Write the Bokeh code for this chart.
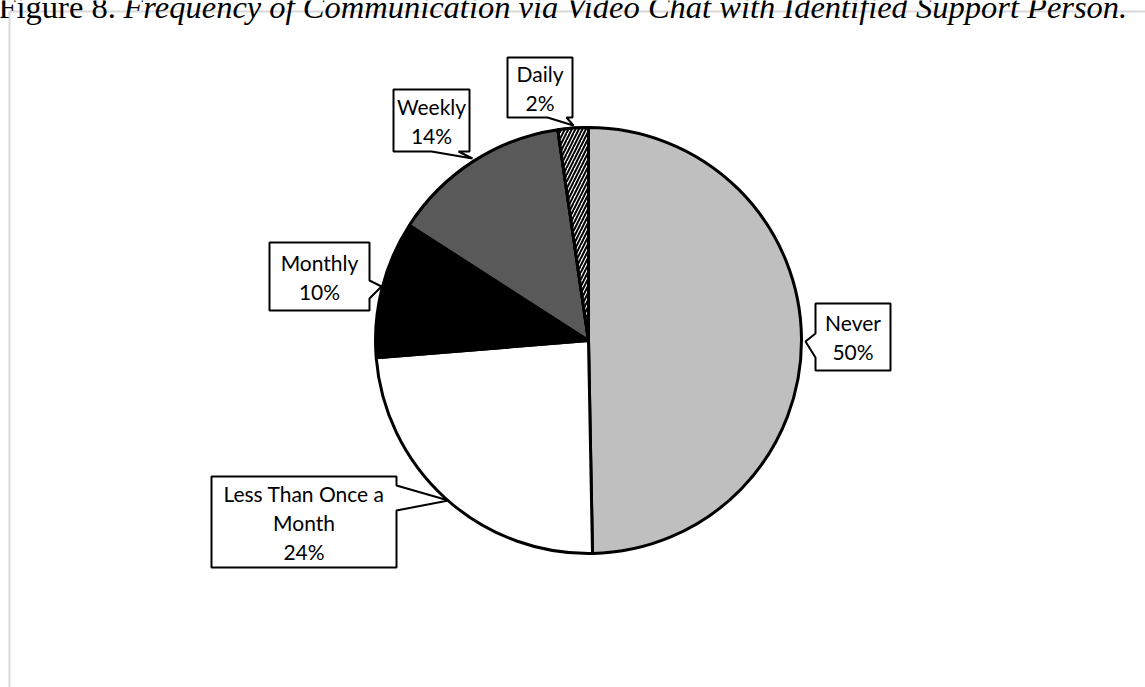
import math
from bokeh.plotting import figure
from bokeh.models import Range1d, ColumnDataSource
from bokeh.core.properties import value
from bokeh.embed import file_html
from bokeh.resources import INLINE

# ---- data ----
categories = ["Never", "Less Than Once a Month", "Monthly", "Weekly", "Daily"]
shares = [49.7, 24.0, 10.4, 13.6, 2.3]
label_lines = [["Never"], ["Less Than Once a", "Month"], ["Monthly"], ["Weekly"], ["Daily"]]
title_lead = "Figure 8."
title_rest = "Frequency of Communication via Video Chat with Identified Support Person."

# ---- styles ----
fills = ["#BFBFBF", "#FFFFFF", "#000000", "#595959", "#FFFFFF"]
W, H = 1145, 687
FONT = "Lato"

def Y(py):
    return H - py

p = figure(width=W, height=H, output_backend="svg", toolbar_location=None,
           x_range=Range1d(0, W), y_range=Range1d(0, H), min_border=0,
           x_axis_location=None, y_axis_location=None)
p.grid.visible = False
p.outline_line_color = None
p.background_fill_color = "white"
p.border_fill_color = "white"

# outer light-gray frame
p.quad(left=[9], right=[1300], top=[Y(11)], bottom=[-100], fill_alpha=0,
       line_color="#D9D9D9", line_width=2)

# pie
cx, cy, r = 588, Y(340), 213
total = sum(shares)
starts, ends = [], []
acc = 0.0
for v in shares:
    starts.append(math.pi / 2 - 2 * math.pi * acc / total)
    acc += v
    ends.append(math.pi / 2 - 2 * math.pi * acc / total)

src = ColumnDataSource(dict(x=[cx] * len(shares), y=[cy] * len(shares),
                            start=starts, end=ends, color=fills, cat=categories))
p.wedge(x="x", y="y", radius=r, start_angle="start", end_angle="end",
        direction="clock", fill_color="color", line_color="black", line_width=3,
        source=src)
# hatched daily slice
d = categories.index("Daily")
p.wedge(x=[cx], y=[cy], radius=r, start_angle=[starts[d]], end_angle=[ends[d]],
        direction="clock", fill_color="white", hatch_pattern="/", hatch_color="black",
        hatch_scale=7, hatch_weight=2, line_color="black", line_width=3)

# callouts (box + pointer), pixel coordinates (y down)
callouts = {
    "Never": [(815, 303), (890, 303), (890, 370), (815, 370), (815, 357), (805, 341), (815, 333)],
    "Less Than Once a Month": [(211, 476), (396, 476), (396, 485), (448, 500), (396, 510), (396, 567), (211, 567)],
    "Monthly": [(269, 242), (369, 242), (369, 280), (381, 286), (369, 298), (369, 310), (269, 310)],
    "Weekly": [(393, 89), (469, 89), (469, 151), (458, 151), (472, 158), (431, 151), (393, 151)],
    "Daily": [(507, 57), (572, 57), (572, 117), (566, 117), (573, 125), (547, 117), (507, 117)],
}
boxes = {
    "Never": (815, 303, 890, 370),
    "Less Than Once a Month": (211, 476, 396, 567),
    "Monthly": (269, 242, 369, 310),
    "Weekly": (393, 89, 469, 151),
    "Daily": (507, 57, 572, 117),
}
tx, ty, tt = [], [], []
for cat, v, lines in zip(categories, shares, label_lines):
    pts = callouts[cat]
    p.patch([q[0] for q in pts], [Y(q[1]) for q in pts], fill_color="white",
            line_color="black", line_width=2)
    x0, y0, x1, y1 = boxes[cat]
    all_lines = lines + [f"{round(v)}%"]
    n = len(all_lines)
    mx, my = (x0 + x1) / 2, (y0 + y1) / 2
    for i, t in enumerate(all_lines):
        tx.append(mx)
        ty.append(Y(my + (i - (n - 1) / 2) * 29))
        tt.append(t)
p.text(x=tx, y=ty, text=tt, text_align="center", text_baseline="middle",
       text_font=value(FONT), text_font_size="21px", text_color="black")

# title (top partially cut off, as in the source page)
p.text(x=[-2], y=[Y(6)], text=[title_lead], text_font=value("Liberation Serif"),
       text_font_size="32.5px", text_baseline="alphabetic", text_align="left",
       text_color="black")
p.text(x=[123], y=[Y(6)], text=[title_rest], text_font=value("Liberation Serif"),
       text_font_style="italic", text_font_size="32.5px", text_baseline="alphabetic",
       text_align="left", text_color="black")

open("out.html", "w").write(file_html(p, INLINE))
